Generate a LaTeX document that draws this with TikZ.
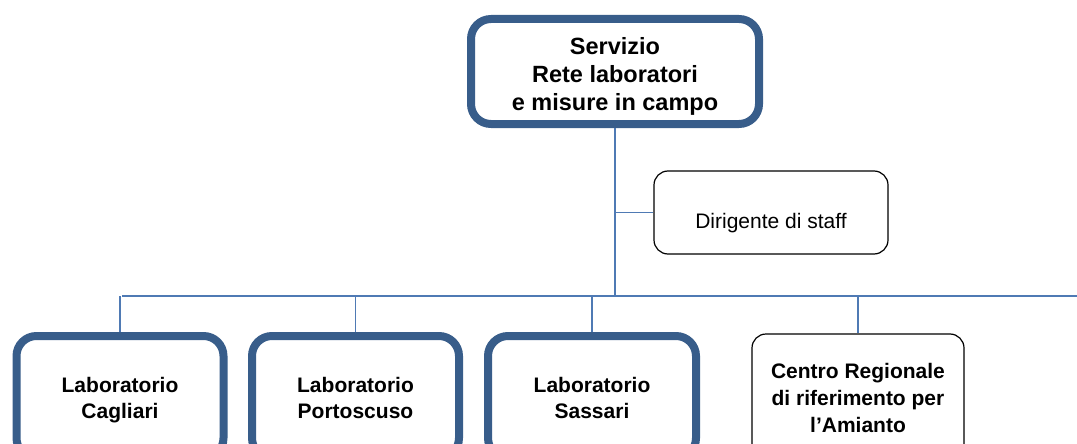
\documentclass[tikz,border=0pt]{standalone}
\usepackage{fontspec}
\setmainfont{Liberation Sans}
\definecolor{boxblue}{RGB}{56,93,138}
\definecolor{lineblue}{RGB}{79,122,180}
\begin{document}
\begin{tikzpicture}[x=1pt,y=-1pt,
  thickbox/.style={draw=boxblue, line width=8pt, rounded corners=20pt, fill=white, inner sep=0pt, outer sep=4pt},
  thinbox/.style={draw=black, line width=1.2pt, rounded corners=14pt, fill=white, inner sep=0pt, outer sep=0.6pt},
  boldtext/.style={align=center, inner sep=0pt, font=\bfseries\fontsize{21}{26}\selectfont},
  plaintext/.style={align=center, inner sep=0pt, font=\fontsize{21}{26}\selectfont},
  conn/.style={draw=lineblue, line width=1.5pt}]
\path[use as bounding box] (0,0) rectangle (1077,444);
\clip (0,0) rectangle (1077,444);
\node[thickbox, minimum width=288pt, minimum height=105pt] (top) at (615,71.5) {};
\node[boldtext, font=\bfseries\fontsize{23.5}{28}\selectfont] (topT) at ([yshift=-4.5pt]top.center) {Servizio\\Rete laboratori\\e misure in campo};
\node[thinbox, minimum width=234pt, minimum height=83pt] (dir) at (771,212.5) {};
\node[plaintext] (dirT) at ([yshift=-11pt]dir.center) {Dirigente di staff};
\node[thickbox, minimum width=207pt, minimum height=122pt] (cag) at (120,397) {};
\node[boldtext] (cagT) at ([yshift=-3pt]cag.center) {Laboratorio\\Cagliari};
\node[thickbox, minimum width=207pt, minimum height=122pt] (por) at (355.5,397) {};
\node[boldtext] (porT) at ([yshift=-0.6pt]por.center) {Laboratorio\\Portoscuso};
\node[thickbox, minimum width=208pt, minimum height=122pt] (sas) at (592,397) {};
\node[boldtext] (sasT) at ([yshift=-0.6pt]sas.center) {Laboratorio\\Sassari};
\node[thinbox, minimum width=212pt, minimum height=126pt] (cen) at (858,397) {};
\node[boldtext, font=\bfseries\fontsize{21}{27}\selectfont] (cenT) at ([yshift=-1pt]cen.center) {Centro Regionale\\di riferimento per\\l’Amianto};
\coordinate (busL) at (122,296);
\coordinate (busR) at (1077,296);
\draw[conn] (top.south) -- (top.south |- busL);
\draw[conn] (dir.west) -- (dir.west -| top.south);
\draw[conn] (busL) -- (busR);
\draw[conn] (cag.north) -- (cag.north |- busL);
\draw[conn] (por.north) -- (por.north |- busL);
\draw[conn] (sas.north) -- (sas.north |- busL);
\draw[conn] (cen.north) -- (cen.north |- busL);
\end{tikzpicture}
\end{document}
